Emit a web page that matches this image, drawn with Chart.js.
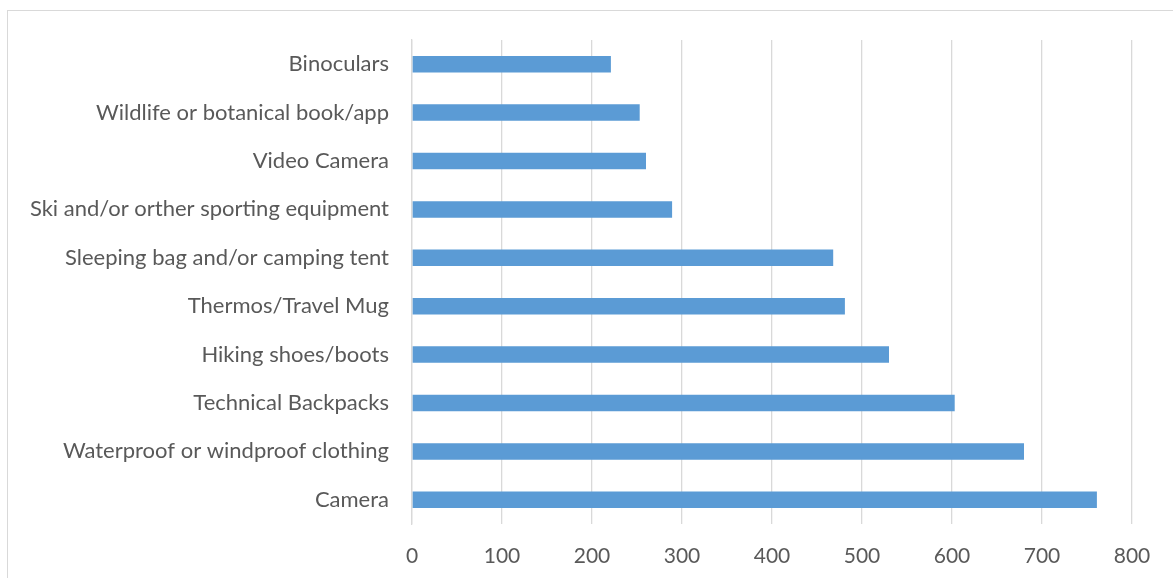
<!DOCTYPE html>
<html>
<head>
<meta charset="utf-8">
<script src="https://cdn.jsdelivr.net/npm/chart.js@4/dist/chart.umd.min.js"></script>
<style>
  html, body { margin: 0; padding: 0; background: #ffffff; overflow: hidden; }
  #frame { position: absolute; left: 7px; top: 10px; width: 1200px; height: 600px; border: 1px solid #d9d9d9; box-sizing: border-box; }
  #c { position: absolute; left: 0; top: 0; }
</style>
</head>
<body>
<div id="frame"></div>
<canvas id="c" width="1173" height="578"></canvas>
<script>
const categories = [
  "Binoculars",
  "Wildlife or botanical book/app",
  "Video Camera",
  "Ski and/or orther sporting equipment",
  "Sleeping bag and/or camping tent",
  "Thermos/Travel Mug",
  "Hiking shoes/boots",
  "Technical Backpacks",
  "Waterproof or windproof clothing",
  "Camera"
];
const values = [221, 253, 260, 289, 468, 481, 530, 603, 680, 761];
const xTicks = [0, 100, 200, 300, 400, 500, 600, 700, 800];

const FONT = "Lato, 'Open Sans', sans-serif";
const TEXT = "#595959";

new Chart(document.getElementById('c'), {
  type: 'bar',
  data: {
    labels: categories,
    datasets: [{
      data: values,
      backgroundColor: '#5b9bd5',
      borderWidth: 0,
      categoryPercentage: 1.0,
      barPercentage: 0.34
    }]
  },
  options: {
    indexAxis: 'y',
    responsive: false,
    animation: false,
    plugins: { legend: { display: false }, tooltip: { enabled: false } },
    layout: { padding: { left: 0, right: 41, top: 40, bottom: 0 } },
    scales: {
      x: {
        min: 0, max: 800,
        afterBuildTicks: (s) => { s.ticks = xTicks.map(v => ({ value: v })); },
        afterFit: (s) => { s.height = 54; },
        grid: { color: '#d9d9d9', lineWidth: 1.3, drawTicks: false },
        border: { display: false },
        ticks: { color: TEXT, font: { family: FONT, size: 21 }, padding: 20 }
      },
      y: {
        afterFit: (s) => { s.width = 412; },
        grid: { display: false, drawTicks: false },
        border: { display: true, color: '#d9d9d9', width: 1.3 },
        ticks: { color: TEXT, font: { family: FONT, size: 22 }, padding: 23 }
      }
    }
  }
});
</script>
</body>
</html>
